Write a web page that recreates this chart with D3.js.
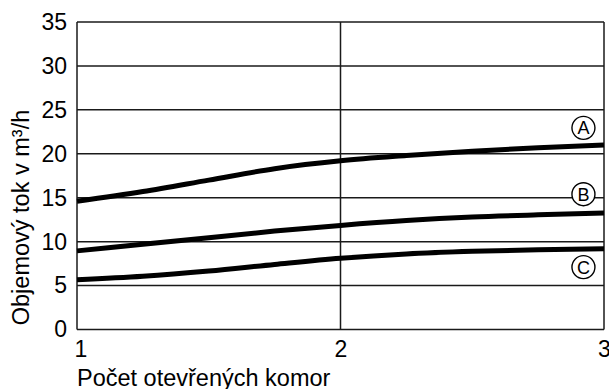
<!DOCTYPE html>
<html>
<head>
<meta charset="utf-8">
<script src="https://cdn.jsdelivr.net/npm/d3@7/dist/d3.min.js"></script>
<style>
  html, body { margin: 0; padding: 0; background: #fff; }
  svg { display: block; }
  text { font-family: "Liberation Sans", Arial, Helvetica, sans-serif; fill: #000; }
</style>
</head>
<body>
<svg id="chart" width="609" height="389"></svg>
<script>
// Number of open chambers (x) and volume flow in m³/h for the three curves
const xValues = [1, 1.25, 1.5, 1.75, 2, 2.25, 2.5, 2.75, 3];
const seriesA = [14.6, 15.7, 17.0, 18.3, 19.2, 19.8, 20.3, 20.7, 21.0];
const seriesB = [8.95, 9.7, 10.45, 11.2, 11.85, 12.4, 12.8, 13.05, 13.25];
const seriesC = [5.65, 6.05, 6.65, 7.4, 8.1, 8.6, 8.9, 9.08, 9.2];
const seriesNames = ["A", "B", "C"];
const labelX = [2.922, 2.922, 2.922];
const labelY = [22.95, 15.4, 7.1];
const yTicks = [0, 5, 10, 15, 20, 25, 30, 35];
const xTicks = [1, 2, 3];
const yTitle = "Objemový tok v m³/h";
const xTitle = "Počet otevřených komor";

const svg = d3.select("#chart");
const plotLeft = 77, plotRight = 604, plotTop = 22, plotBottom = 329.5;

const x = d3.scaleLinear().domain([1, 3]).range([plotLeft, plotRight]);
const y = d3.scaleLinear().domain([0, 35]).range([plotBottom, plotTop]);

const gridColor = "#1a1a1a";

// horizontal grid
svg.append("g")
  .selectAll("line")
  .data(yTicks)
  .join("line")
  .attr("x1", plotLeft).attr("x2", plotRight)
  .attr("y1", d => y(d)).attr("y2", d => y(d))
  .attr("stroke", gridColor).attr("stroke-width", 1.5);

// vertical grid
svg.append("g")
  .selectAll("line")
  .data(xTicks)
  .join("line")
  .attr("x1", d => x(d)).attr("x2", d => x(d))
  .attr("y1", plotTop).attr("y2", plotBottom)
  .attr("stroke", gridColor).attr("stroke-width", 1.5);

// y tick labels
const yAxis = svg.append("g")
  .attr("transform", `translate(${plotLeft},0)`)
  .call(d3.axisLeft(y).tickValues(yTicks).tickSize(0).tickPadding(10));
yAxis.select(".domain").remove();
yAxis.selectAll("text")
  .attr("font-size", 23)
  .attr("font-family", "Liberation Sans, Arial, sans-serif")
  .attr("fill", "#000");

// x tick labels
const xAxis = svg.append("g")
  .attr("transform", `translate(0,${plotBottom})`)
  .call(d3.axisBottom(x).tickValues(xTicks).tickFormat(d3.format("d")).tickSize(0).tickPadding(11));
xAxis.select(".domain").remove();
xAxis.selectAll("text")
  .attr("font-size", 23)
  .attr("font-family", "Liberation Sans, Arial, sans-serif")
  .attr("fill", "#000")
  .attr("dx", d => d === 1 ? 3.5 : 0);

// curves
const line = d3.line()
  .x((d, i) => x(xValues[i]))
  .y(d => y(d))
  .curve(d3.curveMonotoneX);

svg.append("g")
  .selectAll("path")
  .data([seriesA, seriesB, seriesC])
  .join("path")
  .attr("d", line)
  .attr("fill", "none")
  .attr("stroke", "#000")
  .attr("stroke-width", 5);

// circled series markers
const marks = svg.append("g")
  .selectAll("g")
  .data(seriesNames)
  .join("g")
  .attr("transform", (d, i) => `translate(${x(labelX[i])},${y(labelY[i])})`);
marks.append("circle")
  .attr("r", 11.5)
  .attr("fill", "#fff")
  .attr("stroke", "#000")
  .attr("stroke-width", 1.4);
marks.append("text")
  .attr("text-anchor", "middle")
  .attr("dy", "0.36em")
  .attr("font-size", 18)
  .text(d => d);

// axis titles
svg.append("text")
  .attr("transform", `translate(28.5,${(108 + 327) / 2}) rotate(-90)`)
  .attr("text-anchor", "middle")
  .attr("font-size", 23.5)
  .text(yTitle);

svg.append("text")
  .attr("x", 77)
  .attr("y", 386)
  .attr("font-size", 23.5)
  .text(xTitle);
</script>
</body>
</html>
